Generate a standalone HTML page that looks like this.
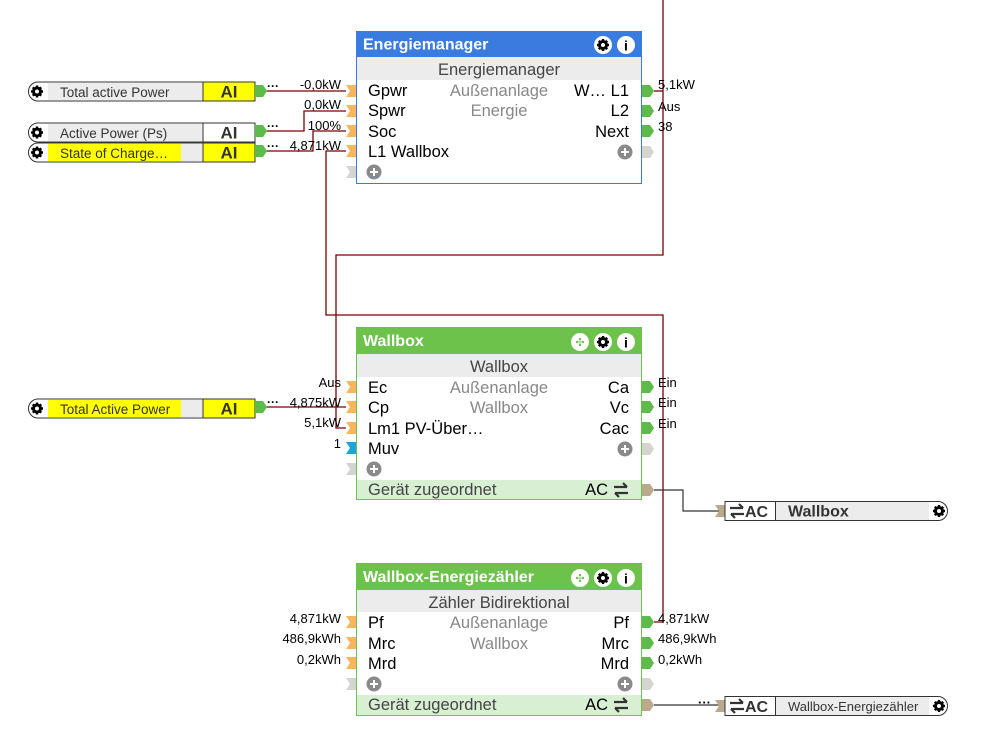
<!DOCTYPE html>
<html><head><meta charset="utf-8"><style>
html,body{margin:0;padding:0;background:#fff;width:986px;height:741px;overflow:hidden}
svg{display:block;font-family:"Liberation Sans",sans-serif}
</style></head><body>
<svg width="986" height="741" viewBox="0 0 986 741" xmlns="http://www.w3.org/2000/svg">
<defs>
<g id="gear"><circle r="5" fill="#000"/><circle r="2" fill="#fff"/>
<g stroke="#000" stroke-width="2.4"><line x1="0" y1="-6" x2="0" y2="6"/><line x1="-6" y1="0" x2="6" y2="0"/><line x1="-4.2" y1="-4.2" x2="4.2" y2="4.2"/><line x1="-4.2" y1="4.2" x2="4.2" y2="-4.2"/></g><circle r="2" fill="#fff"/></g>
<g id="inP"><path d="M-10,-6 L0,-6 L0,6 L-10,6 L-6,0 Z" fill="#f9b55c"/></g>
<g id="inG"><path d="M-10,-6 L0,-6 L0,6 L-10,6 L-6,0 Z" fill="#d4d4d0"/></g>
<g id="inB"><path d="M-10,-6 L0,-6 L0,6 L-10,6 L-6,0 Z" fill="#1aa6d6"/></g>
<g id="outP"><path d="M0,-6 L8,-6 L12,0 L8,6 L0,6 Z" fill="#5dbb4a"/></g>
<g id="outG"><path d="M0,-6 L8,-6 L12,0 L8,6 L0,6 Z" fill="#d4d4d0"/></g>
<g id="outT"><path d="M0,-6 L8,-6 L12,0 L8,6 L0,6 Z" fill="#b9aa8c"/></g>
<g id="plus"><circle r="7.5" fill="#8a8a8a"/><path d="M-4,0H4M0,-4V4" stroke="#fff" stroke-width="2"/></g>
<g id="swap"><path d="M-7,-3H6M2,-7L6,-3M7,3H-6M-2,7L-6,3" stroke="#333" stroke-width="2.2" fill="none"/></g>
</defs>

<!-- wires -->
<g fill="none" stroke="#7a0000" stroke-width="1.3">
<path d="M262,91H346"/>
<path d="M262,131H304V111H346"/>
<path d="M262,151H313V131H346"/>
<path d="M346,151H326V315H663V622H654"/>
<path d="M654,91H663"/>
<path d="M663,0V255H336V428H346"/>
<path d="M262,407H346"/>
</g>
<g fill="none" stroke="#333" stroke-width="1.2">
<path d="M654,490H683V511H725"/>
<path d="M654,705H725"/>
</g>

<!-- input blocks -->
<g font-size="13.5" fill="#333">
<path d="M38,82H255V101H38A9.5,9.5 0 0 1 38,82Z" fill="#fff" stroke="#333"/>
<rect x="48" y="83" width="155" height="17" fill="#ececec"/>
<rect x="203" y="82" width="52" height="19" fill="#ffff00" stroke="#333"/>
<use href="#gear" x="37" y="91.5"/>
<text x="60" y="97">Total active Power</text>
<text x="229" y="97.5" font-size="17" font-weight="bold" text-anchor="middle">AI</text>
<use href="#outP" x="255" y="91"/>
<text x="267" y="90" font-size="12" fill="#000" font-weight="bold">···</text>

<path d="M38,123H255V142H38A9.5,9.5 0 0 1 38,123Z" fill="#fff" stroke="#333"/>
<rect x="48" y="124" width="155" height="17" fill="#ececec"/>
<rect x="203" y="123" width="52" height="19" fill="#fff" stroke="#333"/>
<use href="#gear" x="37" y="132.5"/>
<text x="60" y="138">Active Power (Ps)</text>
<text x="229" y="138.5" font-size="17" font-weight="bold" text-anchor="middle">AI</text>
<use href="#outP" x="255" y="131"/>
<text x="267" y="130" font-size="12" fill="#000" font-weight="bold">···</text>

<path d="M38,143H255V162H38A9.5,9.5 0 0 1 38,143Z" fill="#fff" stroke="#333"/>
<rect x="48" y="144" width="155" height="17" fill="#ececec"/>
<rect x="48" y="144" width="133" height="17" fill="#ffff00"/>
<rect x="203" y="143" width="52" height="19" fill="#ffff00" stroke="#333"/>
<use href="#gear" x="37" y="152.5"/>
<text x="60" y="158">State of Charge…</text>
<text x="229" y="158.5" font-size="17" font-weight="bold" text-anchor="middle">AI</text>
<use href="#outP" x="255" y="151"/>
<text x="267" y="150" font-size="12" fill="#000" font-weight="bold">···</text>

<path d="M38,399H255V418H38A9.5,9.5 0 0 1 38,399Z" fill="#fff" stroke="#333"/>
<rect x="48" y="400" width="155" height="17" fill="#ececec"/>
<rect x="48" y="400" width="133" height="17" fill="#ffff00"/>
<rect x="203" y="399" width="52" height="19" fill="#ffff00" stroke="#333"/>
<use href="#gear" x="37" y="408.5"/>
<text x="60" y="414">Total Active Power</text>
<text x="229" y="414.5" font-size="17" font-weight="bold" text-anchor="middle">AI</text>
<use href="#outP" x="255" y="407"/>
<text x="267" y="406" font-size="12" fill="#000" font-weight="bold">···</text>
</g>

<!-- value labels -->
<g font-size="13" fill="#000">
<g text-anchor="end">
<text x="341" y="89">-0,0kW</text>
<text x="341" y="109">0,0kW</text>
<text x="341" y="130">100%</text>
<text x="341" y="150">4,871kW</text>
<text x="341" y="387">Aus</text>
<text x="341" y="407">4,875kW</text>
<text x="341" y="427">5,1kW</text>
<text x="341" y="448">1</text>
<text x="341" y="623">4,871kW</text>
<text x="341" y="643">486,9kWh</text>
<text x="341" y="664">0,2kWh</text>
</g>
<text x="658" y="89">5,1kW</text>
<text x="658" y="111">Aus</text>
<text x="658" y="131">38</text>
<text x="658" y="387">Ein</text>
<text x="658" y="407">Ein</text>
<text x="658" y="428">Ein</text>
<text x="658" y="623">4,871kW</text>
<text x="658" y="643">486,9kWh</text>
<text x="658" y="664">0,2kWh</text>
<text x="698" y="707" font-weight="bold">···</text>
</g>

<!-- Energiemanager -->
<rect x="356.5" y="31.5" width="285" height="152" fill="#fff" stroke="#3a7be0"/>
<rect x="356" y="31" width="286" height="26" fill="#3a7be0"/>
<rect x="357" y="57" width="284" height="23" fill="#ececec"/>
<text x="363" y="49.5" font-size="16" font-weight="bold" fill="#fff">Energiemanager</text>
<circle cx="603" cy="45" r="9" fill="#fff"/><use href="#gear" x="603" y="45"/>
<circle cx="626" cy="45" r="9" fill="#fff"/><text x="626" y="50.5" font-size="14" font-weight="bold" text-anchor="middle">i</text>
<g font-size="16.5">
<text x="499" y="75" text-anchor="middle" fill="#444">Energiemanager</text>
<text x="368" y="96">Gpwr</text><text x="368" y="116">Spwr</text><text x="368" y="137">Soc</text><text x="368" y="157">L1 Wallbox</text>
<text x="499" y="96" text-anchor="middle" fill="#888">Außenanlage</text>
<text x="499" y="116" text-anchor="middle" fill="#888">Energie</text>
<text x="629" y="96" text-anchor="end">W…  L1</text><text x="629" y="116" text-anchor="end">L2</text><text x="629" y="137" text-anchor="end">Next</text>
</g>
<use href="#inP" x="356" y="91"/><use href="#inP" x="356" y="111"/><use href="#inP" x="356" y="131"/><use href="#inP" x="356" y="151"/><use href="#inG" x="356" y="172"/>
<use href="#plus" x="374" y="172"/><use href="#plus" x="625" y="152"/>
<use href="#outP" x="642" y="91"/><use href="#outP" x="642" y="111"/><use href="#outP" x="642" y="131"/><use href="#outG" x="642" y="152"/>

<!-- Wallbox -->
<rect x="356.5" y="327.5" width="285" height="172" fill="#fff" stroke="#6cc24a"/>
<rect x="356" y="327" width="286" height="27" fill="#6cc24a"/>
<rect x="357" y="354" width="284" height="23" fill="#ececec"/>
<rect x="357" y="480" width="284" height="19" fill="#d9efd4"/>
<text x="363" y="346" font-size="16" font-weight="bold" fill="#fff">Wallbox</text>
<circle cx="580" cy="342" r="9" fill="#fff"/><text x="580" y="346" font-size="11" fill="#6cc24a" text-anchor="middle">✣</text>
<circle cx="603" cy="342" r="9" fill="#fff"/><use href="#gear" x="603" y="342"/>
<circle cx="626" cy="342" r="9" fill="#fff"/><text x="626" y="347.5" font-size="14" font-weight="bold" text-anchor="middle">i</text>
<g font-size="16.5">
<text x="499" y="372" text-anchor="middle" fill="#444">Wallbox</text>
<text x="368" y="393">Ec</text><text x="368" y="413">Cp</text><text x="368" y="434">Lm1  PV-Über…</text><text x="368" y="454">Muv</text>
<text x="499" y="393" text-anchor="middle" fill="#888">Außenanlage</text>
<text x="499" y="413" text-anchor="middle" fill="#888">Wallbox</text>
<text x="629" y="393" text-anchor="end">Ca</text><text x="629" y="413" text-anchor="end">Vc</text><text x="629" y="434" text-anchor="end">Cac</text>
<text x="368" y="495" fill="#444">Gerät zugeordnet</text><text x="608" y="495" text-anchor="end">AC</text>
</g>
<use href="#swap" x="621" y="490"/>
<use href="#inP" x="356" y="387"/><use href="#inP" x="356" y="407"/><use href="#inP" x="356" y="428"/><use href="#inB" x="356" y="448"/><use href="#inG" x="356" y="469"/>
<use href="#plus" x="374" y="469"/><use href="#plus" x="625" y="449"/>
<use href="#outP" x="642" y="387"/><use href="#outP" x="642" y="407"/><use href="#outP" x="642" y="428"/><use href="#outG" x="642" y="449"/><use href="#outT" x="642" y="490"/>

<!-- Wallbox-Energiezähler -->
<rect x="356.5" y="563.5" width="285" height="152" fill="#fff" stroke="#6cc24a"/>
<rect x="356" y="563" width="286" height="27" fill="#6cc24a"/>
<rect x="357" y="590" width="284" height="22" fill="#ececec"/>
<rect x="357" y="695" width="284" height="20" fill="#d9efd4"/>
<text x="363" y="582" font-size="16" font-weight="bold" fill="#fff">Wallbox-Energiezähler</text>
<circle cx="580" cy="578" r="9" fill="#fff"/><text x="580" y="582" font-size="11" fill="#6cc24a" text-anchor="middle">✣</text>
<circle cx="603" cy="578" r="9" fill="#fff"/><use href="#gear" x="603" y="578"/>
<circle cx="626" cy="578" r="9" fill="#fff"/><text x="626" y="583.5" font-size="14" font-weight="bold" text-anchor="middle">i</text>
<g font-size="16.5">
<text x="499" y="608" text-anchor="middle" fill="#444">Zähler Bidirektional</text>
<text x="368" y="628">Pf</text><text x="368" y="649">Mrc</text><text x="368" y="669">Mrd</text>
<text x="499" y="628" text-anchor="middle" fill="#888">Außenanlage</text>
<text x="499" y="649" text-anchor="middle" fill="#888">Wallbox</text>
<text x="629" y="628" text-anchor="end">Pf</text><text x="629" y="649" text-anchor="end">Mrc</text><text x="629" y="669" text-anchor="end">Mrd</text>
<text x="368" y="710" fill="#444">Gerät zugeordnet</text><text x="608" y="710" text-anchor="end">AC</text>
</g>
<use href="#swap" x="621" y="705"/>
<use href="#inP" x="356" y="622"/><use href="#inP" x="356" y="643"/><use href="#inP" x="356" y="663"/><use href="#inG" x="356" y="684"/>
<use href="#plus" x="374" y="684"/><use href="#plus" x="625" y="684"/>
<use href="#outP" x="642" y="622"/><use href="#outP" x="642" y="643"/><use href="#outP" x="642" y="663"/><use href="#outG" x="642" y="684"/><use href="#outT" x="642" y="705"/>

<!-- AC output blocks -->
<path d="M715,505H725V517H715L719,511Z" fill="#b9aa8c"/>
<path d="M725,501.5H938A9.5,9.5 0 0 1 938,520.5H725Z" fill="#fff" stroke="#333"/>
<rect x="776" y="502" width="153" height="18" fill="#ececec"/>
<line x1="775.5" y1="501" x2="775.5" y2="521" stroke="#333"/>
<use href="#swap" x="737" y="511"/>
<text x="745" y="517" font-size="16" font-weight="bold" fill="#333">AC</text>
<text x="788" y="516.5" font-size="16" font-weight="bold" fill="#333">Wallbox</text>
<use href="#gear" x="939" y="511"/>

<path d="M715,700H725V712H715L719,706Z" fill="#b9aa8c"/>
<path d="M725,696.5H938A9.5,9.5 0 0 1 938,715.5H725Z" fill="#fff" stroke="#333"/>
<rect x="776" y="697" width="153" height="18" fill="#ececec"/>
<line x1="775.5" y1="696" x2="775.5" y2="716" stroke="#333"/>
<use href="#swap" x="737" y="706"/>
<text x="745" y="712" font-size="16" font-weight="bold" fill="#333">AC</text>
<text x="788" y="711" font-size="13" fill="#333">Wallbox-Energiezähler</text>
<use href="#gear" x="939" y="706"/>
</svg>
</body></html>
